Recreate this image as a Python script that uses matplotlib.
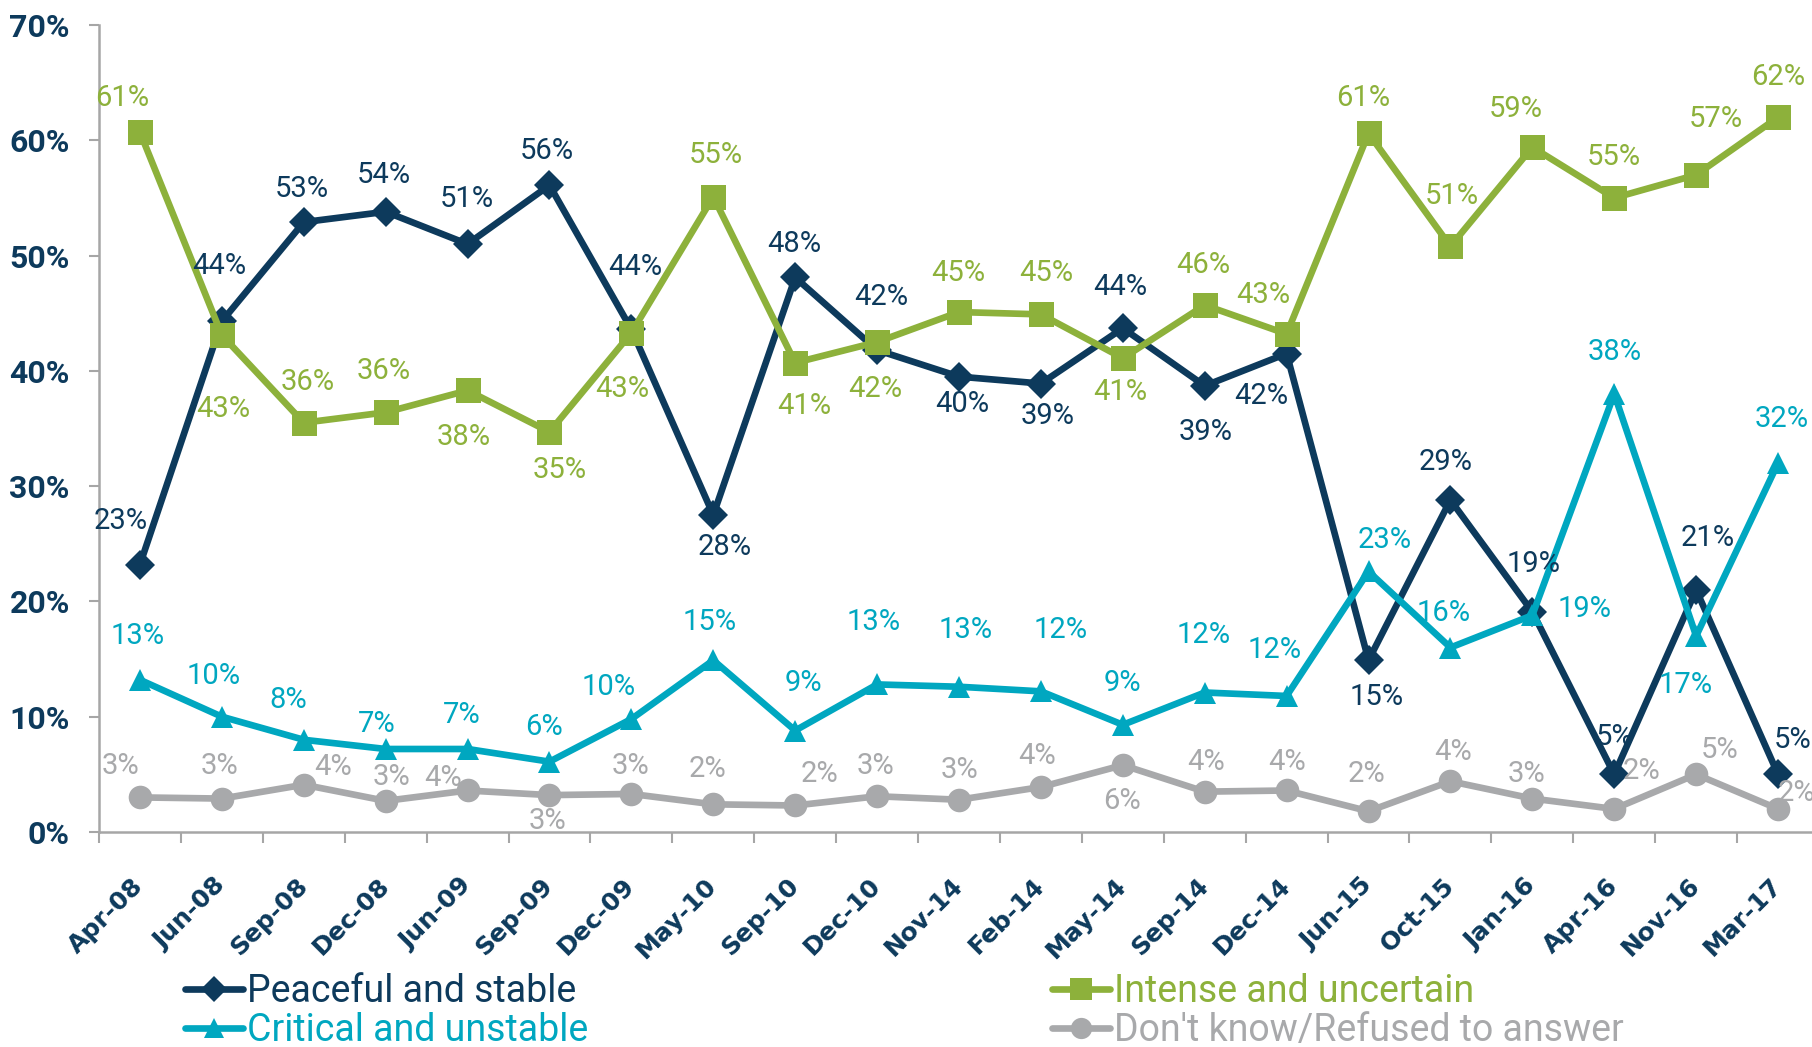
import matplotlib
matplotlib.use("Agg")
import matplotlib.pyplot as plt

# ---------------- data ----------------
categories = ["Apr-08", "Jun-08", "Sep-08", "Dec-08", "Jun-09", "Sep-09", "Dec-09",
              "May-10", "Sep-10", "Dec-10", "Nov-14", "Feb-14", "May-14", "Sep-14",
              "Dec-14", "Jun-15", "Oct-15", "Jan-16", "Apr-16", "Nov-16", "Mar-17"]

peaceful = [23.2, 44.3, 52.9, 53.8, 51.0, 56.1, 43.6, 27.5, 48.1, 41.8, 39.5, 38.9,
            43.7, 38.7, 41.5, 14.9, 28.8, 19.1, 5.0, 21.0, 5.0]
intense = [60.7, 43.1, 35.5, 36.4, 38.3, 34.7, 43.3, 55.1, 40.7, 42.5, 45.1, 44.9,
           41.1, 45.7, 43.2, 60.6, 50.8, 59.4, 55.0, 57.0, 62.0]
critical = [13.2, 10.0, 8.0, 7.2, 7.2, 6.1, 9.8, 14.9, 8.8, 12.8, 12.6, 12.2,
            9.3, 12.1, 11.8, 22.6, 16.0, 18.8, 38.0, 17.0, 32.0]
dontknow = [3.0, 2.9, 4.1, 2.7, 3.6, 3.2, 3.3, 2.4, 2.3, 3.1, 2.8, 3.9,
            5.8, 3.5, 3.6, 1.8, 4.4, 2.9, 2.0, 5.0, 2.0]

series_names = ["Peaceful and stable", "Intense and uncertain",
                "Critical and unstable", "Don't know/Refused to answer"]
y_ticks = [0, 10, 20, 30, 40, 50, 60, 70]

# ---------------- label placement (offsets in reference px) ----------------
off_peaceful = [(-17, -38), (-2, -48), (-2, -29), (-2, -32), (-1, -39), (-2, -30), (3, -54),
                (10, 28), (-1, -29), (4, -46), (3, 24), (6, 28), (-2, -36), (1, 40),
                (-22, 37), (7, 32), (-4, -33), (1, -41), (0, -32), (10, -45), (13, -30)]
off_intense = [(-15, -30), (1, 64), (3, -35), (-2, -36), (-3, 40), (9, 33), (-8, 49),
               (2, -36), (8, 37), (-2, 41), (-1, -34), (5, -36), (-2, 29), (-1, -35),
               (-20, -34), (-5, -31), (1, -44), (-14, -33), (0, -35), (17, -48), (0, -35)]
off_critical = [(-2, -38), (-7, -35), (-13, -34), (-8, -22), (-5, -29), (-5, -30), (-20, -28),
                (-3, -33), (7, -41), (-3, -54), (6, -49), (17, -53), (0, -36), (-1, -50),
                (-10, -40), (14, -27), (-6, -30), (45, -5), (0, -36), (-9, 42), (3, -38)]
off_dontknow = [(-17, -27), (-2, -28), (25, -15), (5, -21), (-21, -11), (-2, 22), (-1, -24),
                (-5, -31), (21, -27), (-1, -26), (0, -26), (-3, -27), (-1, 31), (1, -26),
                (0, -25), (-2, -32), (2, -25), (-5, -21), (24, -33), (20, -21), (16, -14)]

NAVY = "#0D3A5C"
GREEN = "#8DB13B"
TEAL = "#00A7C0"
GRAY = "#A8A9AB"
AXIS_GRAY = "#A6A6A6"

FONT = ["Roboto", "DejaVu Sans"]
plt.rcParams["font.family"] = FONT

W, H = 1812, 1047
fig = plt.figure(figsize=(W / 100, H / 100), dpi=100)
ax = fig.add_axes([99 / W, 1 - 832 / H, (1819 - 99) / W, (832 - 25) / H])

x = list(range(len(categories)))
specs = [
    (peaceful, NAVY, "D", 15, 2, off_peaceful, series_names[0]),
    (intense, GREEN, "s", 18, 3, off_intense, series_names[1]),
    (critical, TEAL, "^", 16, 4, off_critical, series_names[2]),
    (dontknow, GRAY, "o", 17, 5, off_dontknow, series_names[3]),
]
handles = {}
PX2PT = (W / 1568) * 0.72
for vals, col, mk, ms, z, offs, name in specs:
    ln, = ax.plot(x, vals, color=col, lw=4.8, marker=mk, markersize=ms,
                  markeredgewidth=0, zorder=z, label=name, solid_joinstyle="miter",
                  solid_capstyle="round", clip_on=False)
    handles[name] = ln
    for xi, v, (dx, dy) in zip(x, vals, offs):
        ax.annotate(f"{v:.0f}%", (xi, v), xytext=(dx * PX2PT, -dy * PX2PT),
                    textcoords="offset points", ha="center", va="center",
                    fontsize=21, color=col, zorder=10, family=FONT)

ax.set_xlim(-0.5, len(categories) - 0.5)
ax.set_ylim(0, 70)
ax.set_yticks(y_ticks)
ax.set_yticklabels([f"{t}%" for t in y_ticks], fontsize=23, fontweight="bold",
                   color=NAVY, family=FONT)
ax.set_xticks(x)
ax.set_xticklabels(categories, rotation=45, ha="right", va="center",
                   rotation_mode="anchor", fontsize=18, fontweight="bold",
                   color=NAVY, family=["DejaVu Sans"])
ax.set_xticks([i - 0.5 for i in range(len(categories) + 1)], minor=True)
ax.tick_params(axis="x", which="major", length=0, pad=36)
ax.tick_params(axis="x", which="minor", length=8, width=1.5, color=AXIS_GRAY)
ax.tick_params(axis="y", which="major", length=7, width=1.5, color=AXIS_GRAY, pad=14)

for s in ["top", "right"]:
    ax.spines[s].set_visible(False)
for s in ["left", "bottom"]:
    ax.spines[s].set_color(AXIS_GRAY)
    ax.spines[s].set_linewidth(1.8)

# legends
def make_legend(names, x0):
    hs = [handles[n] for n in names]
    leg = fig.legend(hs, names, loc="center left", bbox_to_anchor=(x0, 1 - 1011 / H),
                     frameon=False, handlelength=1.55, handletextpad=0.1,
                     labelspacing=0.05, borderpad=0, borderaxespad=0, markerscale=0.9,
                     prop={"family": FONT, "size": 27})
    for t, n in zip(leg.get_texts(), names):
        t.set_color(handles[n].get_color())
    return leg

make_legend([series_names[0], series_names[2]], 185 / W)
make_legend([series_names[1], series_names[3]], 1052 / W)

fig.savefig("out.png", dpi=100)
